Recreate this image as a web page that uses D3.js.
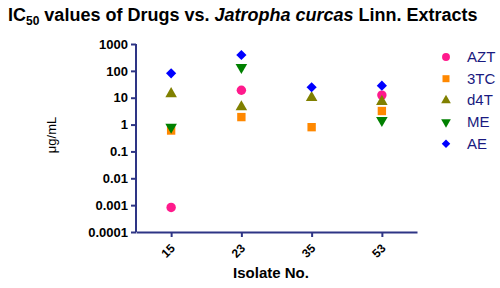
<!DOCTYPE html>
<html>
<head>
<meta charset="utf-8">
<script src="https://cdn.jsdelivr.net/npm/d3@7"></script>
<style>
  body { margin: 0; background: #fff; }
  svg { font-family: "Liberation Sans", Arial, sans-serif; }
</style>
</head>
<body>
<svg width="500" height="288"></svg>
<script>
// Isolates (x categories)
const isolates = ["15", "23", "35", "53"];

// IC50 values per drug / extract (µg/mL), null = not plotted
const azt = [0.00082, 19, null, 12.5];
const tc3 = [0.6, 1.9, 0.8, 3.2];
const d4t = [14, 4.5, 10, 7.2];
const me  = [0.8, 136, null, 1.45];
const ae  = [81, 390, 24.5, 28];

const yTicks = [1000, 100, 10, 1, 0.1, 0.01, 0.001, 0.0001];

const series = [
  {name: "AZT", values: azt, color: "#ff1a8c", symbol: d3.symbolCircle, size: 70, rot: 0},
  {name: "3TC", values: tc3, color: "#ff8800", symbol: d3.symbolSquare, size: 70, rot: 0},
  {name: "d4T", values: d4t, color: "#808000", symbol: d3.symbolTriangle, size: 58, rot: 0},
  {name: "ME",  values: me,  color: "#008000", symbol: d3.symbolTriangle, size: 58, rot: 180},
  {name: "AE",  values: ae,  color: "#0000ff", symbol: d3.symbolSquare, size: 52, rot: 45}
];

const svg = d3.select("svg");
const axisColor = "#2e3585";

const x = d3.scalePoint()
    .domain(isolates)
    .range([136, 417])
    .padding(0.5);

const y = d3.scaleLog()
    .domain([0.0001, 1000])
    .range([232, 44]);

// Title
const title = svg.append("text")
    .attr("x", 8)
    .attr("y", 21)
    .attr("font-size", 18)
    .attr("font-weight", "bold")
    .attr("fill", "#000");
title.append("tspan").text("IC");
title.append("tspan").attr("font-size", 12).attr("dy", 4).text("50");
title.append("tspan").attr("dy", -4).text(" values of Drugs vs. ");
title.append("tspan").attr("font-style", "italic").text("Jatropha curcas");
title.append("tspan").text(" Linn. Extracts");

// Y axis
const yAxis = svg.append("g")
    .attr("transform", "translate(136,0)")
    .call(d3.axisLeft(y).tickValues(yTicks).tickFormat(d => String(d)).tickSize(5).tickPadding(3));
yAxis.select(".domain").attr("stroke", axisColor).attr("stroke-width", 2)
    .attr("d", "M0,44V232");
yAxis.selectAll(".tick line").attr("stroke", axisColor).attr("stroke-width", 2);
yAxis.selectAll(".tick text")
    .attr("font-size", 13).attr("font-weight", "bold").attr("fill", "#000")
    .attr("font-family", "Liberation Sans, Arial, sans-serif");

// X axis
const xAxis = svg.append("g")
    .attr("transform", "translate(0,232)")
    .call(d3.axisBottom(x).tickSize(5).tickSizeOuter(0));
xAxis.select(".domain").attr("stroke", axisColor).attr("stroke-width", 2);
xAxis.selectAll(".tick line").attr("stroke", axisColor).attr("stroke-width", 2);
xAxis.selectAll(".tick text")
    .attr("font-size", 12).attr("font-weight", "bold").attr("fill", "#000")
    .attr("font-family", "Liberation Sans, Arial, sans-serif")
    .attr("text-anchor", "end")
    .attr("dy", null)
    .attr("y", 0)
    .attr("transform", "translate(4,17) rotate(-45)");

// Axis titles
svg.append("text")
    .attr("x", 271)
    .attr("y", 278)
    .attr("text-anchor", "middle")
    .attr("font-size", 15)
    .attr("font-weight", "bold")
    .text("Isolate No.");

svg.append("text")
    .attr("transform", "translate(56,135) rotate(-90)")
    .attr("text-anchor", "middle")
    .attr("font-size", 13)
    .text("μg/mL");

// Points
series.forEach(s => {
  svg.append("g")
    .selectAll("path")
    .data(s.values.map((v, i) => ({v, k: isolates[i]})).filter(d => d.v != null))
    .join("path")
      .attr("d", d3.symbol().type(s.symbol).size(s.size))
      .attr("transform", d => `translate(${x(d.k)},${y(d.v)}) rotate(${s.rot})`)
      .attr("fill", s.color);
});

// Legend
const legend = svg.append("g");
series.forEach((s, i) => {
  const yy = 57 + i * 21.7;
  legend.append("path")
    .attr("d", d3.symbol().type(s.symbol).size(s.size * 0.7))
    .attr("transform", `translate(446,${yy}) rotate(${s.rot})`)
    .attr("fill", s.color);
  legend.append("text")
    .attr("x", 467)
    .attr("y", yy + 5)
    .attr("font-size", 15)
    .attr("fill", "#1a1a80")
    .text(s.name);
});
</script>
</body>
</html>
